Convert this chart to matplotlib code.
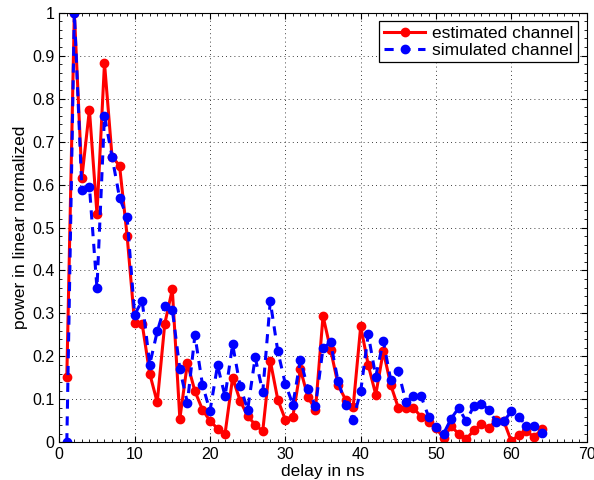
import matplotlib
matplotlib.use("Agg")
import matplotlib.pyplot as plt
from matplotlib.ticker import AutoMinorLocator, MultipleLocator

# delay taps (ns)
delay = list(range(1, 65))

estimated = [
    0.152, 1.0, 0.616, 0.774, 0.532, 0.883, 0.665, 0.644, 0.481, 0.277,
    0.276, 0.16, 0.093, 0.276, 0.356, 0.055, 0.184, 0.119, 0.076, 0.05,
    0.032, 0.02, 0.15, 0.097, 0.061, 0.041, 0.026, 0.19, 0.099, 0.053,
    0.06, 0.17, 0.105, 0.076, 0.294, 0.216, 0.134, 0.099, 0.082, 0.27,
    0.18, 0.111, 0.212, 0.133, 0.08, 0.08, 0.08, 0.06, 0.047, 0.033,
    0.01, 0.037, 0.02, 0.007, 0.028, 0.042, 0.034, 0.051, 0.049, 0.002,
    0.018, 0.026, 0.012, 0.03,
]

simulated = [
    0.0, 1.0, 0.588, 0.595, 0.359, 0.76, 0.665, 0.569, 0.524, 0.297,
    0.33, 0.181, 0.258, 0.317, 0.309, 0.17, 0.092, 0.249, 0.134, 0.073,
    0.179, 0.107, 0.228, 0.131, 0.076, 0.198, 0.117, 0.328, 0.212, 0.136,
    0.088, 0.192, 0.125, 0.084, 0.219, 0.233, 0.142, 0.088, 0.053, 0.119,
    0.251, 0.153, 0.236, 0.144, 0.165, 0.094, 0.108, 0.108, 0.06, 0.036,
    0.02, 0.055, 0.08, 0.049, 0.084, 0.09, 0.076, 0.047, 0.049, 0.072,
    0.06, 0.037, 0.037, 0.022,
]

plt.rcParams["font.family"] = ["Liberation Sans", "DejaVu Sans"]

fig = plt.figure(figsize=(5.94, 4.8), dpi=100)
ax = fig.add_axes([0.0998, 0.0785, 0.888, 0.895])

ax.plot(delay, estimated, "-o", color="red", lw=2.2, ms=6,
        label="estimated channel")
ax.plot(delay, simulated, "--o", color="blue", lw=2.2, ms=6,
        dashes=(3, 2.5), label="simulated channel")

ax.set_xlim(0, 70)
ax.set_ylim(0, 1)
ax.xaxis.set_major_locator(MultipleLocator(10))
ax.xaxis.set_minor_locator(AutoMinorLocator(10))
ax.yaxis.set_minor_locator(AutoMinorLocator(5))
ax.set_yticks([i / 10 for i in range(11)])
ax.set_yticklabels(["0"] + [f"{i / 10:g}" for i in range(1, 10)] + ["1"])

ax.tick_params(which="both", direction="in", top=True, right=True,
               labelsize=11.5)
ax.tick_params(which="major", length=4)
ax.tick_params(which="minor", length=2)
ax.grid(True, which="major", linestyle=(0, (1, 4)), color="black", lw=0.6)

for s in ax.spines.values():
    s.set_linewidth(0.8)

ax.set_xlabel("delay in ns", fontsize=12.5, labelpad=1)
ax.set_ylabel("power in linear normalized", fontsize=12.5, labelpad=3)

leg = ax.legend(loc="upper right", fontsize=12.5, fancybox=False,
                framealpha=1, edgecolor="black", borderpad=0.25,
                handlelength=2.4, handletextpad=0.4, labelspacing=0.1,
                borderaxespad=0.5)
leg.get_frame().set_linewidth(0.9)

fig.savefig("out.png", dpi=100)
